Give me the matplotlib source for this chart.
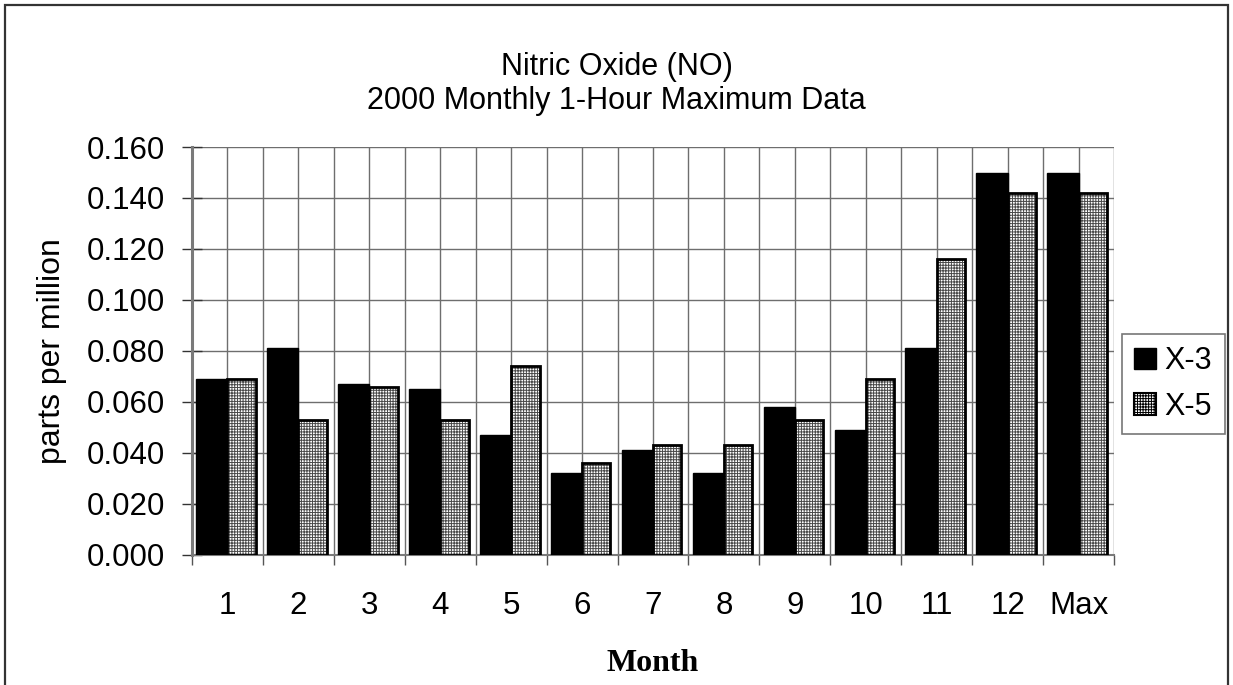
import matplotlib
matplotlib.use("Agg")
import matplotlib.pyplot as plt
import numpy as np
from matplotlib.patches import Rectangle, Patch

# Monthly 1-hour maximum NO concentrations (ppm)
categories = ["1", "2", "3", "4", "5", "6", "7", "8", "9", "10", "11", "12", "Max"]
x3_values = [0.069, 0.081, 0.067, 0.065, 0.047, 0.032, 0.041, 0.032, 0.058, 0.049, 0.081, 0.150, 0.150]
x5_values = [0.069, 0.053, 0.066, 0.053, 0.074, 0.036, 0.043, 0.043, 0.053, 0.069, 0.116, 0.142, 0.142]
series_names = ["X-3", "X-5"]
y_ticks = [0.000, 0.020, 0.040, 0.060, 0.080, 0.100, 0.120, 0.140, 0.160]

plt.rcParams["font.family"] = ["Liberation Sans", "DejaVu Sans"]
plt.rcParams["hatch.linewidth"] = 0.7
plt.rcParams["hatch.color"] = "#4a4a4a"

fig = plt.figure(figsize=(12.33, 6.85), dpi=100)
ax = fig.add_axes([0.1557, 0.1898, 0.9035 - 0.1557, 0.7854 - 0.1898])

# outer chart frame
fig.patches.append(Rectangle((5 / 1233, -0.05), (1228 - 5) / 1233, 1.05 - 5 / 685,
                             transform=fig.transFigure, fill=False,
                             edgecolor="#333333", linewidth=1.6, zorder=0))

x = np.arange(len(categories))
w_black = 0.44
w_hatch = 0.40

ax.bar(x - w_black / 2, x3_values, width=w_black, color="black",
       edgecolor="black", linewidth=1.0, zorder=3)
ax.bar(x + w_hatch / 2, x5_values, width=w_hatch, color="white",
       edgecolor="#4a4a4a", linewidth=0, hatch="++++++", zorder=3)
ax.bar(x + w_hatch / 2, x5_values, width=w_hatch, color="none",
       edgecolor="black", linewidth=2.0, zorder=4)

ax.set_xlim(-0.5, len(categories) - 0.5)
ax.set_ylim(0, 0.160)
ax.set_yticks(y_ticks)
ax.set_yticklabels([f"{v:.3f}" for v in y_ticks], fontsize=22.5)

# category boundaries as major ticks, labels at centres via minor ticks
ax.set_xticks(np.arange(len(categories) + 1) - 0.5)
ax.set_xticklabels([])
ax.set_xticks(x, minor=True)
ax.set_xticklabels(categories, minor=True, fontsize=22.5)
ax.tick_params(axis="x", which="major", direction="out", length=7, width=1.0,
               color="#555555")
ax.tick_params(axis="x", which="minor", length=0, pad=26)
ax.tick_params(axis="y", direction="inout", length=14, width=1.0,
               color="#333333", pad=12.5)

# grid: horizontal at every tick, vertical at boundaries and centres
for yv in y_ticks:
    ax.axhline(yv, color="#6e6e6e", linewidth=1.0, zorder=1)
for xv in np.arange(-0.5, len(categories), 0.5):
    ax.axvline(xv, color="#6e6e6e", linewidth=1.0, zorder=1)

for side in ["top", "right"]:
    ax.spines[side].set_visible(False)
ax.spines["left"].set_color("#7a7a7a")
ax.spines["left"].set_linewidth(2.2)
ax.spines["bottom"].set_color("#7a7a7a")
ax.spines["bottom"].set_linewidth(1.5)

ax.set_ylabel("parts per million", fontsize=23, labelpad=14)
ax.set_xlabel("Month", fontsize=23, fontweight="bold",
              family=["Liberation Serif", "DejaVu Serif"], labelpad=20)

fig.text(0.5, 1 - 67 / 685, "Nitric Oxide (NO)", ha="center", va="center", fontsize=22)
fig.text(0.5, 1 - 101 / 685, "2000 Monthly 1-Hour Maximum Data", ha="center",
         va="center", fontsize=22)

handles = [
    Patch(facecolor="black", edgecolor="black", linewidth=1.0),
    Patch(facecolor="white", edgecolor="black", linewidth=1.5, hatch="++++++"),
]
leg = fig.legend(handles, series_names, loc="center left",
                 bbox_to_anchor=(1122 / 1233, 1 - 384 / 685), fontsize=22,
                 frameon=True, fancybox=False, edgecolor="#555555",
                 handlelength=0.7, handleheight=0.7, handletextpad=0.3,
                 borderpad=0.4, labelspacing=0.5, borderaxespad=0)
leg.get_frame().set_linewidth(1.2)

fig.savefig("out.png", dpi=100, facecolor="white")
